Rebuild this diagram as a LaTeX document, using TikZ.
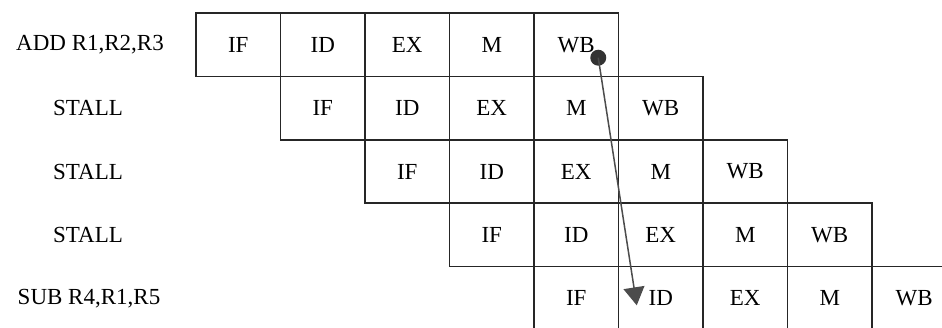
\documentclass[tikz,border=0pt]{standalone}
\usepackage{fontspec}
\setmainfont{Liberation Serif}
\usetikzlibrary{arrows.meta,calc}
\begin{document}
\begin{tikzpicture}[x=1pt,y=-1pt,
  cell/.style={draw=black!85, line width=1.6pt, minimum width=84.5pt, minimum height=63.4pt,
    inner sep=0pt, outer sep=0pt, font=\fontsize{23}{23}\selectfont, anchor=north west},
  lab/.style={font=\fontsize{23}{23}\selectfont, inner sep=0pt},
  dep/.style={draw=black!70, line width=1.5pt, -{Triangle[width=21pt,length=18pt]}},
  dotnode/.style={circle, fill=black!80, minimum size=16pt, inner sep=0pt}]
\useasboundingbox (0,0) rectangle (942,327);
\clip (0,0) rectangle (942,327);
\foreach \r in {0,...,4} {
  \foreach \t [count=\k from 0] in {IF,ID,EX,M,WB} {
    \pgfmathsetmacro\xx{196+84.5*(\r+\k)}
    \pgfmathsetmacro\yy{13+63.4*\r}
    \node[cell] (c\r\k) at (\xx,\yy) {\t};
  }
}
\node[lab] (l0) at (90,44.7) {ADD R1,R2,R3};
\node[lab] (l1) at (88,108.1) {STALL};
\node[lab] (l2) at (88,171.5) {STALL};
\node[lab] (l3) at (88,234.9) {STALL};
\node[lab] (l4) at (89,298.3) {SUB R4,R1,R5};
\node[dotnode] (dot) at ($(c04.center)+(22,13)$) {};
\coordinate (tip) at ($(c41.center)+(-24,7)$);
\draw[dep] (dot.center) -- (tip);
\end{tikzpicture}
\end{document}
